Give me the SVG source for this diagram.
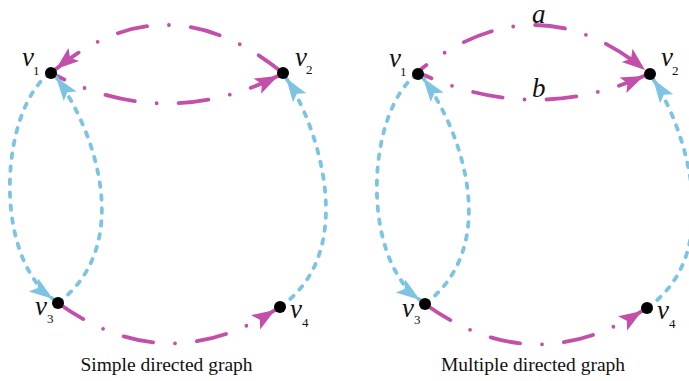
<svg xmlns="http://www.w3.org/2000/svg" width="689" height="381" viewBox="0 0 689 381">
<style>
.mg{fill:none;stroke:#C24FAA;stroke-width:3.8;stroke-linecap:round;stroke-dasharray:30 22 0 22;marker-end:url(#am)}
.bl{fill:none;stroke:#7DC3E3;stroke-width:3.8;stroke-linecap:round;stroke-dasharray:4.5 8.5;marker-end:url(#ab)}
.nd{fill:#000}
.vl{font-family:"Liberation Serif","Times New Roman",serif;font-style:italic;font-size:27px;fill:#111}
.sb{font-family:"Liberation Serif","Times New Roman",serif;font-size:13px;fill:#111}
.cap{font-family:"Liberation Serif","Times New Roman",serif;font-size:19.5px;fill:#111;text-anchor:middle}
</style>
<defs>
<marker id="am" markerUnits="userSpaceOnUse" viewBox="-25 -10 26 20" markerWidth="26" markerHeight="20" refX="0" refY="0" orient="auto">
<path d="M0,0 L-23,-8.5 L-18,0 L-23,8.5 Z" fill="#C24FAA"/>
</marker>
<marker id="ab" markerUnits="userSpaceOnUse" viewBox="-25 -10 26 20" markerWidth="26" markerHeight="20" refX="0" refY="0" orient="auto">
<path d="M0,0 L-24,-8 L-19,0 L-24,8 Z" fill="#7DC3E3"/>
</marker>
</defs>
<g id="connectors">
<path class="mg" d="M283,73 Q167,-21 56,69"/>
<path class="mg" d="M57,76 Q167,131 278,76" stroke-dashoffset="22"/>
<path class="bl" d="M50,73 C0,110 -8,255 53,299"/>
<path class="bl" d="M58,303 C135,245 95,130 56,77"/>
<path class="bl" d="M280,307 C362,250 315,120 286,78"/>
<path class="mg" d="M58,303 Q165,380 275,310"/>
<path class="mg" d="M420,70 Q535,-20 645,70" stroke-dashoffset="22"/>
<path class="mg" d="M424,75 Q535,124 644,76" stroke-dashoffset="22"/>
<path class="bl" d="M417,74 C367,111 359,256 420,300"/>
<path class="bl" d="M425,304 C502,246 462,131 423,78"/>
<path class="bl" d="M647,308 C729,251 682,121 653,79"/>
<path class="mg" d="M425,304 Q532,381 642,311"/>
</g>
<g id="v1L"><circle class="nd" cx="51" cy="73" r="6"/><text class="vl" x="22" y="66">v</text><text class="sb" x="33" y="75">1</text></g>
<g id="v2L"><circle class="nd" cx="283" cy="73" r="6"/><text class="vl" x="295" y="66">v</text><text class="sb" x="306" y="74">2</text></g>
<g id="v3L"><circle class="nd" cx="58" cy="303" r="6"/><text class="vl" x="35" y="315">v</text><text class="sb" x="47" y="323">3</text></g>
<g id="v4L"><circle class="nd" cx="280" cy="307" r="6"/><text class="vl" x="290" y="318">v</text><text class="sb" x="302" y="327">4</text></g>
<g id="v1R"><circle class="nd" cx="418" cy="74" r="6"/><text class="vl" x="389" y="67">v</text><text class="sb" x="400" y="76">1</text></g>
<g id="v2R"><circle class="nd" cx="650" cy="74" r="6"/><text class="vl" x="661" y="66">v</text><text class="sb" x="672" y="75">2</text></g>
<g id="v3R"><circle class="nd" cx="425" cy="304" r="6"/><text class="vl" x="402" y="317">v</text><text class="sb" x="414" y="324">3</text></g>
<g id="v4R"><circle class="nd" cx="647" cy="308" r="6"/><text class="vl" x="657" y="319">v</text><text class="sb" x="669" y="328">4</text></g>
<g id="labels">
<text class="vl" x="532" y="23" font-size="24">a</text>
<text class="vl" x="532" y="97">b</text>
<text class="cap" x="166.5" y="371">Simple directed graph</text>
<text class="cap" x="533" y="371">Multiple directed graph</text>
</g>
</svg>
